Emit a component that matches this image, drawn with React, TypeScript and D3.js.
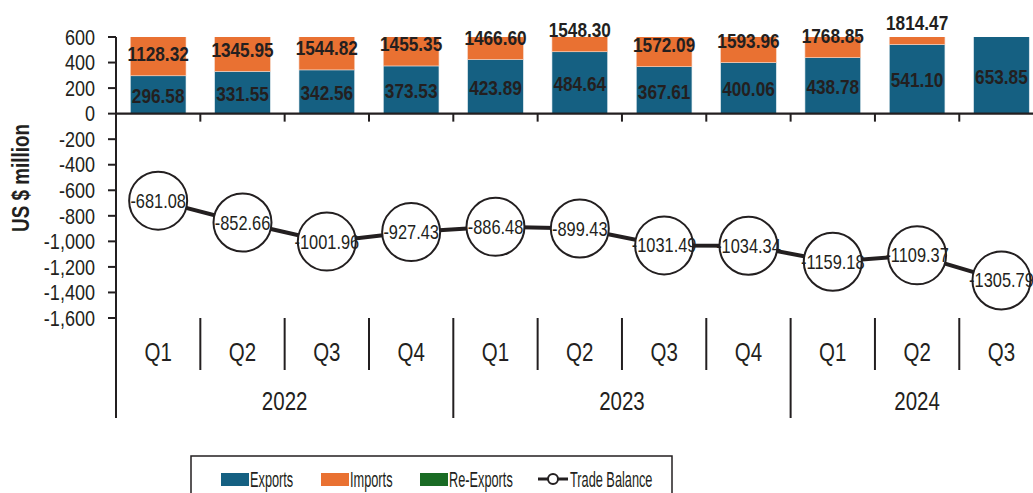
import React from 'react';
import * as d3 from 'd3';

// quarters and years on the two-level category axis
const quarters = ['Q1', 'Q2', 'Q3', 'Q4', 'Q1', 'Q2', 'Q3', 'Q4', 'Q1', 'Q2', 'Q3'];
const years = ['2022', '2022', '2022', '2022', '2023', '2023', '2023', '2023', '2024', '2024', '2024'];
const exportsVals = [296.58, 331.55, 342.56, 373.53, 423.89, 484.64, 367.61, 400.06, 438.78, 541.10, 653.85];
const importsVals: (number | null)[] = [1128.32, 1345.95, 1544.82, 1455.35, 1466.60, 1548.30, 1572.09, 1593.96, 1768.85, 1814.47, null];
const tradeBalance = [-681.08, -852.66, -1001.96, -927.43, -886.48, -899.43, -1031.49, -1034.34, -1159.18, -1109.37, -1305.79];
const yTicks = [600, 400, 200, 0, -200, -400, -600, -800, -1000, -1200, -1400, -1600];

const W = 1033;
const H = 493;
const FONT = "'Liberation Sans', Arial, sans-serif";
const NARROW = 0.82; // fake Arial Narrow by squeezing Liberation Sans
const C_EXP = '#156082';
const C_IMP = '#E97132';
const C_REX = '#196B24';
const INK = '#231f20';

const keys = quarters.map((q, i) => `${years[i]}-${q}`);

// plot area runs a little past the right edge of the picture (it is cropped there)
const X0 = 116;
const X1 = 1043.6;
const x = d3.scaleBand<string>().domain(keys).range([X0, X1]).paddingInner(0.34).paddingOuter(0.17);
const y = d3.scaleLinear().domain([-1600, 600]).range([318, 37]);

const locale = d3.formatLocale({ decimal: '.', thousands: ',', grouping: [3], currency: ['$', ''], minus: '-' });
const fmtTick = locale.format(',');

// squeezed text, anchored at (x,y)
const NText = ({ x, y, children, size, anchor = 'middle', bold = false, sx = NARROW }: any) => (
  <text transform={`translate(${x},${y}) scale(${sx},1)`} dy="0.35em" textAnchor={anchor}
    fontSize={size} fontWeight={bold ? 'bold' : 'normal'} fill={INK}>
    {children}
  </text>
);

export default function App() {
  const step = x.step();
  const bw = x.bandwidth();
  const cx = (i: number) => (x(keys[i]) as number) + bw / 2;
  const boundary = (i: number) => X0 + i * step;

  const line = d3.line<number>()
    .x((_, i) => cx(i))
    .y(d => y(d));

  // group the years for the second level labels
  const yearGroups = d3.groups(years.map((yr, i) => ({ yr, i })), d => d.yr)
    .map(([yr, arr]) => ({ yr, first: arr[0].i, last: arr[arr.length - 1].i }));

  const top = y(600);

  return (
    <svg width={W} height={H} style={{ position: 'absolute', left: 0, top: 0 }} fontFamily={FONT}>
      <defs>
        <clipPath id="plot">
          <rect x={X0} y={top} width={X1 - X0} height={y(-1600) - top} />
        </clipPath>
      </defs>

      {/* stacked bars, clipped at 600 */}
      <g clipPath="url(#plot)">
        {exportsVals.map((v, i) => (
          <rect key={'e' + i} x={x(keys[i])} y={y(v)} width={bw} height={y(0) - y(v)} fill={C_EXP} stroke="#dfe9ee" strokeWidth={0.6} />
        ))}
        {importsVals.map((v, i) => v == null ? null : (
          <rect key={'m' + i} x={x(keys[i])} y={y(exportsVals[i] + v)} width={bw} height={y(exportsVals[i]) - y(exportsVals[i] + v)} fill={C_IMP} stroke="#f6d3c0" strokeWidth={0.6} />
        ))}
      </g>

      {/* bar labels */}
      {exportsVals.map((v, i) => (
        <NText key={'el' + i} x={cx(i)} y={(y(0) + Math.max(y(v), top)) / 2 + 1} size={21} bold>{v.toFixed(2)}</NText>
      ))}
      {importsVals.map((v, i) => v == null ? null : (
        <NText key={'ml' + i} x={cx(i)} y={y(exportsVals[i]) - 22} size={21} bold>{v.toFixed(2)}</NText>
      ))}

      {/* y axis */}
      <line x1={X0} x2={X0} y1={top} y2={y(-1600)} stroke={INK} strokeWidth={2} />
      {yTicks.map(t => (
        <g key={t}>
          <line x1={X0 - 8} x2={X0} y1={y(t)} y2={y(t)} stroke={INK} strokeWidth={2} />
          <NText x={95} y={y(t)} size={22} anchor="end">{fmtTick(t)}</NText>
        </g>
      ))}
      <text transform={`translate(29,178) rotate(-90) scale(${NARROW},1)`} textAnchor="middle" fontSize={23} fontWeight="bold" fill={INK}>US $ million</text>

      {/* zero line with category ticks */}
      <line x1={X0} x2={X1} y1={y(0)} y2={y(0)} stroke={INK} strokeWidth={2.2} />
      {d3.range(1, keys.length + 1).map(i => (
        <line key={'zt' + i} x1={boundary(i)} x2={boundary(i)} y1={y(0)} y2={y(0) + 8} stroke={INK} strokeWidth={2} />
      ))}

      {/* two-level category labels */}
      {d3.range(0, keys.length + 1).map(i => {
        const isYear = i === 0 || i === keys.length || years[i] !== years[i - 1];
        return (
          <line key={'d' + i} x1={boundary(i)} x2={boundary(i)} y1={y(-1600)} y2={isYear ? 418 : 370} stroke={INK} strokeWidth={2} />
        );
      })}
      {quarters.map((q, i) => (
        <NText key={'q' + i} x={cx(i)} y={352} size={25}>{q}</NText>
      ))}
      {yearGroups.map(g => (
        <NText key={g.yr} x={(boundary(g.first) + boundary(g.last + 1)) / 2} y={401} size={25}>{g.yr}</NText>
      ))}

      {/* trade balance line */}
      <path d={line(tradeBalance) || ''} fill="none" stroke={INK} strokeWidth={4} />
      {tradeBalance.map((v, i) => (
        <g key={'b' + i}>
          <circle cx={cx(i)} cy={y(v)} r={29} fill="#fff" stroke={INK} strokeWidth={2} />
          <NText x={cx(i)} y={y(v)} size={20}>{v.toFixed(2)}</NText>
        </g>
      ))}

      {/* legend */}
      <rect x={191} y={456} width={481} height={60} fill="#fff" stroke={INK} strokeWidth={1.5} />
      <rect x={221} y={473} width={28} height={13} fill={C_EXP} />
      <NText x={250} y={479} size={22} anchor="start" sx={0.58}>Exports</NText>
      <rect x={321} y={473} width={28} height={13} fill={C_IMP} />
      <NText x={350} y={479} size={22} anchor="start" sx={0.58}>Imports</NText>
      <rect x={420} y={473} width={28} height={13} fill={C_REX} />
      <NText x={449} y={479} size={22} anchor="start" sx={0.58}>Re-Exports</NText>
      <line x1={538} x2={568} y1={479} y2={479} stroke={INK} strokeWidth={3} />
      <circle cx={553} cy={479} r={5} fill="#fff" stroke={INK} strokeWidth={2} />
      <NText x={570} y={479} size={22} anchor="start" sx={0.58}>Trade Balance</NText>
    </svg>
  );
}
